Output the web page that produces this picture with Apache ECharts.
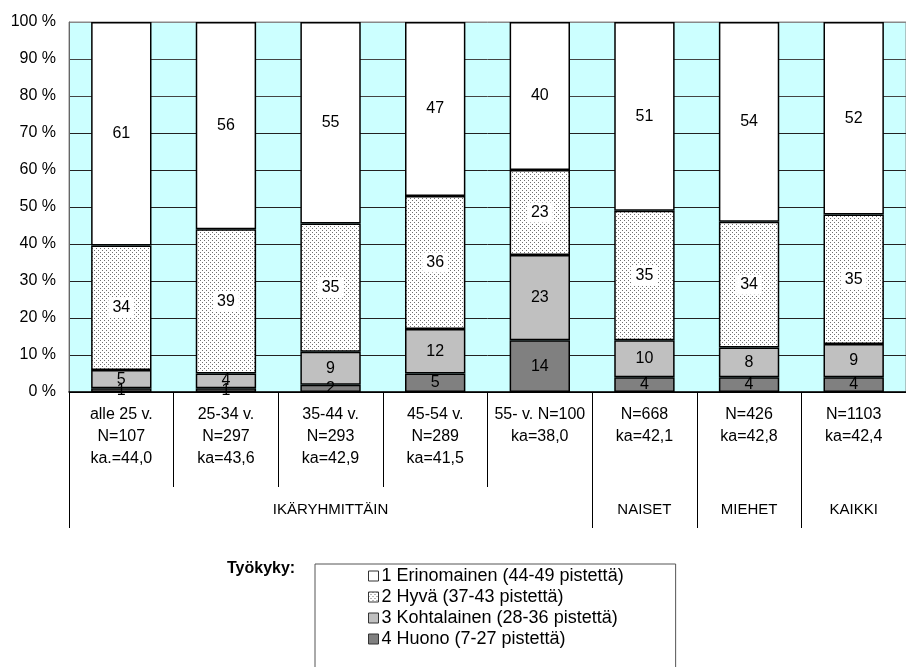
<!DOCTYPE html>
<html>
<head>
<meta charset="utf-8">
<script src="https://cdn.jsdelivr.net/npm/echarts@6/dist/echarts.min.js"></script>
<style>
html,body{margin:0;padding:0;background:#fff;}
#c{width:906px;height:667px;}
</style>
</head>
<body>
<div id="c"></div>
<script>
const categories = [
  'alle 25 v.\nN=107\nka.=44,0',
  '25-34 v.\nN=297\nka=43,6',
  '35-44 v.\nN=293\nka=42,9',
  '45-54 v.\nN=289\nka=41,5',
  '55- v. N=100\nka=38,0',
  'N=668\nka=42,1',
  'N=426\nka=42,8',
  'N=1103\nka=42,4'
];
const groupLabels = ['', '', 'IKÄRYHMITTÄIN', '', '', 'NAISET', 'MIEHET', 'KAIKKI'];
const groupStarts = [0, 5, 6, 7];
const seriesNames = [
  '1 Erinomainen (44-49 pistettä)',
  '2 Hyvä (37-43 pistettä)',
  '3 Kohtalainen (28-36 pistettä)',
  '4 Huono (7-27 pistettä)'
];
const erinomainen = [61, 56, 55, 47, 40, 51, 54, 52];
const hyva = [34, 39, 35, 36, 23, 35, 34, 35];
const kohtalainen = [5, 4, 9, 12, 23, 10, 8, 9];
const huono = [1, 1, 2, 5, 14, 4, 4, 4];

const totals = categories.map((c, i) => erinomainen[i] + hyva[i] + kohtalainen[i] + huono[i]);
function toPct(arr) {
  return arr.map((v, i) => ({ value: v / totals[i] * 100, raw: v }));
}

// dotted pattern
const pat = document.createElement('canvas');
pat.width = 4; pat.height = 4;
const pc = pat.getContext('2d');
pc.fillStyle = '#ffffff'; pc.fillRect(0, 0, 4, 4);
pc.fillStyle = '#707070';
pc.fillRect(0, 0, 1, 1);
pc.fillRect(2, 2, 1, 1);

const FONT = 'Liberation Sans, Arial, sans-serif';
const barBase = {
  type: 'bar',
  stack: 'total',
  barCategoryGap: '42.3%',
  label: {
    show: true,
    position: 'inside',
    color: '#000',
    fontSize: 16,
    fontFamily: FONT,
    formatter: p => String(p.data.raw)
  }
};
function mk(name, arr, color, extraLabel) {
  const s = Object.assign({}, barBase, {
    name: name,
    data: toPct(arr),
    itemStyle: { color: color, borderColor: '#000', borderWidth: 1.5 }
  });
  s.label = Object.assign({}, barBase.label, extraLabel || {});
  return s;
}

const splitColors = ['#000','#222','#222','#222','#222','#222','#222','#222','#444','#444','#888'];

const option = {
  animation: false,
  backgroundColor: '#fff',
  textStyle: { fontFamily: FONT },
  title: {
    text: 'Työkyky:',
    left: 222, top: 556,
    textStyle: { fontSize: 16, fontWeight: 'bold', color: '#000', fontFamily: FONT }
  },
  legend: {
    data: seriesNames,
    orient: 'vertical',
    left: 315, top: 564,
    height: 300,
    padding: [3, 52, 30, 53],
    itemGap: 3,
    itemWidth: 10, itemHeight: 10,
    icon: 'rect',
    borderColor: '#555', borderWidth: 1,
    itemStyle: { borderColor: '#333', borderWidth: 1 },
    textStyle: { fontSize: 18, lineHeight: 18, color: '#000', fontFamily: FONT, padding: [0,0,0,-2] }
  },
  grid: {
    left: 69, top: 22, width: 845.6, height: 370,
    show: true, backgroundColor: '#CCFFFF', borderColor: '#888', borderWidth: 1
  },
  xAxis: [
    {
      type: 'category',
      data: categories,
      position: 'bottom',
      axisLine: { show: true, lineStyle: { color: '#000', width: 1.5 } },
      axisTick: { show: true, length: 95, alignWithLabel: false, interval: 0, lineStyle: { color: '#000', width: 1 } },
      axisLabel: { interval: 0, margin: 12, fontSize: 16, lineHeight: 22, color: '#000', fontFamily: FONT }
    },
    {
      type: 'category',
      data: categories,
      position: 'bottom',
      axisLine: { show: false },
      axisTick: {
        show: true, length: 136, alignWithLabel: false,
        interval: (idx) => groupStarts.indexOf(idx) >= 0,
        lineStyle: { color: '#000', width: 1 }
      },
      axisLabel: {
        interval: 0, margin: 109, fontSize: 15, lineHeight: 18, color: '#000', fontFamily: FONT,
        formatter: (v, idx) => groupLabels[idx]
      }
    }
  ],
  yAxis: {
    type: 'value',
    min: 0, max: 100, interval: 10,
    axisLine: { show: true, lineStyle: { color: '#666', width: 1 } },
    axisTick: { show: false },
    splitLine: { show: true, lineStyle: { color: splitColors, width: 1 } },
    axisLabel: { formatter: '{value} %', fontSize: 16, color: '#000', margin: 13, fontFamily: FONT }
  },
  series: [
    mk(seriesNames[3], huono, '#808080'),
    mk(seriesNames[2], kohtalainen, '#C0C0C0'),
    mk(seriesNames[1], hyva, { image: pat, repeat: 'repeat' }, { backgroundColor: '#fff', padding: [3, 4, 1, 4] }),
    mk(seriesNames[0], erinomainen, '#ffffff')
  ]
};

const chart = echarts.init(document.getElementById('c'), null, { renderer: 'canvas' });
chart.setOption(option);
</script>
</body>
</html>
